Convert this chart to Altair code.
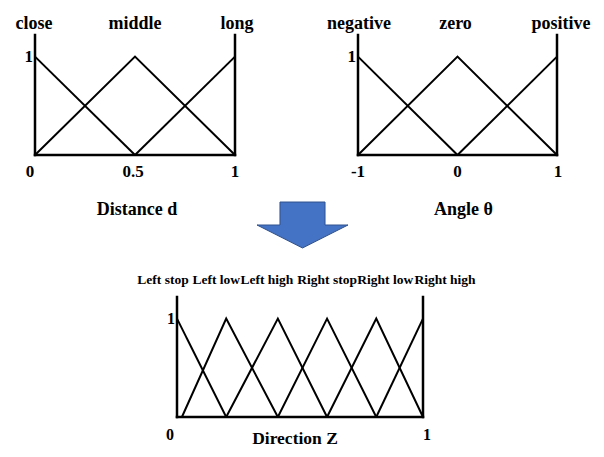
import altair as alt
import pandas as pd

# ---------------- data ----------------
# Distance d
dist_sets = ["close", "middle", "long"]
dist_x = [[0, 0.5], [0, 0.5, 1], [0.5, 1]]
dist_mu = [[1, 0], [0, 1, 0], [0, 1]]
dist_peaks = [0, 0.5, 1]
dist_ticks = [0, 0.5, 1]
dist_tick_labels = ["0", "0.5", "1"]

# Angle theta
angle_sets = ["negative", "zero", "positive"]
angle_x = [[-1, 0], [-1, 0, 1], [0, 1]]
angle_mu = [[1, 0], [0, 1, 0], [0, 1]]
angle_peaks = [-1, 0, 1]
angle_ticks = [-1, 0, 1]
angle_tick_labels = ["-1", "0", "1"]

# Direction Z
dir_sets = ["Left stop", "Left low", "Left high", "Right stop", "Right low", "Right high"]
dir_x = [[0, 0.2], [0.02, 0.2, 0.41], [0.2, 0.41, 0.61],
         [0.41, 0.61, 0.81], [0.61, 0.81, 1], [0.81, 1]]
dir_mu = [[1, 0], [0, 1, 0], [0, 1, 0], [0, 1, 0], [0, 1, 0], [0, 1]]
dir_peaks = [0, 0.2, 0.41, 0.61, 0.81, 1]
dir_ticks = [0, 1]
dir_tick_labels = ["0", "1"]

Y_TOP = 1.22
FONT = "Liberation Serif"
ARROW = "M -0.495 -0.505 L 0.495 -0.505 L 0.495 0 L 1 0 L 0 0.505 L -1 0 L -0.495 0 Z"


def panel(sets, xs, mus, peaks, ticks, tick_labels, title, xdomain, xrange, yrange,
          set_y, set_font, set_dx, tick_y, tick_font, tick_dx, title_y, title_dx, title_font):
    xsc = alt.Scale(domain=xdomain, range=xrange, nice=False, zero=False)
    ysc = alt.Scale(domain=[0, Y_TOP], range=yrange, nice=False, zero=False)
    X = lambda f: alt.X(f, scale=xsc, axis=None)
    Y = lambda f: alt.Y(f, scale=ysc, axis=None)
    rows = []
    for s, xv, mv in zip(sets, xs, mus):
        for i, (a, b) in enumerate(zip(xv, mv)):
            rows.append({"set": s, "i": i, "x": a, "mu": b})
    df = pd.DataFrame(rows)
    layers = []
    lo, hi = xdomain
    frame = pd.DataFrame({"x": [lo, hi, lo], "x2": [lo, hi, hi],
                          "y": [0, 0, 0], "y2": [Y_TOP, Y_TOP, 0]})
    layers.append(alt.Chart(frame).mark_rule(color="black", strokeWidth=2.5, strokeCap="square").encode(
        x=X("x:Q"), x2="x2:Q", y=Y("y:Q"), y2="y2:Q"))
    layers.append(alt.Chart(df).mark_line(color="black", strokeWidth=2).encode(
        x=X("x:Q"), y=Y("mu:Q"), detail="set:N", order="i:Q"))
    for name, p, d in zip(sets, peaks, set_dx):
        layers.append(alt.Chart(pd.DataFrame({"x": [p], "t": [name]})).mark_text(
            font=FONT, fontWeight="bold", fontSize=set_font, color="black",
            baseline="alphabetic", align="center", dx=d).encode(
            x=X("x:Q"), y=alt.value(set_y), text="t:N"))
    for t, lab, d in zip(ticks, tick_labels, tick_dx):
        layers.append(alt.Chart(pd.DataFrame({"x": [t], "t": [lab]})).mark_text(
            font=FONT, fontWeight="bold", fontSize=tick_font, color="black",
            baseline="alphabetic", align="center", dx=d).encode(
            x=X("x:Q"), y=alt.value(tick_y), text="t:N"))
    layers.append(alt.Chart(pd.DataFrame({"x": [lo], "y": [1], "t": ["1"]})).mark_text(
        font=FONT, fontWeight="bold", fontSize=tick_font, color="black",
        baseline="middle", align="right", dx=-2).encode(
        x=X("x:Q"), y=Y("y:Q"), text="t:N"))
    layers.append(alt.Chart(pd.DataFrame({"x": [(lo + hi) / 2], "t": [title]})).mark_text(
        font=FONT, fontWeight="bold", fontSize=title_font, color="black",
        baseline="alphabetic", align="center", dx=title_dx).encode(
        x=X("x:Q"), y=alt.value(title_y), text="t:N"))
    return alt.layer(*layers)


p1 = panel(dist_sets, dist_x, dist_mu, dist_peaks, dist_ticks, dist_tick_labels, "Distance d",
           [0, 1], [27, 227], [147, 27],
           set_y=21, set_font=18, set_dx=[-1, 0, 2],
           tick_y=169, tick_font=17, tick_dx=[-5, -2, 0],
           title_y=207, title_dx=2, title_font=18)
p2 = panel(angle_sets, angle_x, angle_mu, angle_peaks, angle_ticks, angle_tick_labels, "Angle θ",
           [-1, 1], [350, 549], [147, 27],
           set_y=21, set_font=18, set_dx=[1, -2, 4],
           tick_y=169, tick_font=17, tick_dx=[0, 0, 1],
           title_y=207, title_dx=6, title_font=18)
p3 = panel(dir_sets, dir_x, dir_mu, dir_peaks, dir_ticks, dir_tick_labels, "Direction Z",
           [0, 1], [169, 415], [409, 289],
           set_y=276, set_font=13.5, set_dx=[-14, -10, -11, 0, 9, 22],
           tick_y=432, tick_font=16, tick_dx=[-7, 4],
           title_y=436, title_dx=-5, title_font=17.5)

arrow = alt.Chart(pd.DataFrame({"k": [0]})).mark_point(
    shape=ARROW, size=8281, filled=True, fill="#4472C4", stroke="#2F528F",
    strokeWidth=1, opacity=1).encode(x=alt.value(294.5), y=alt.value(217))

chart = alt.layer(p1, p2, p3, arrow).resolve_scale(
    x="independent", y="independent"
).properties(
    width=588, height=441, padding=0, autosize=alt.AutoSizeParams(type="none"),
    background="white"
).configure_view(stroke=None)

chart.save("out.html", embed_options={"renderer": "svg", "actions": False})
